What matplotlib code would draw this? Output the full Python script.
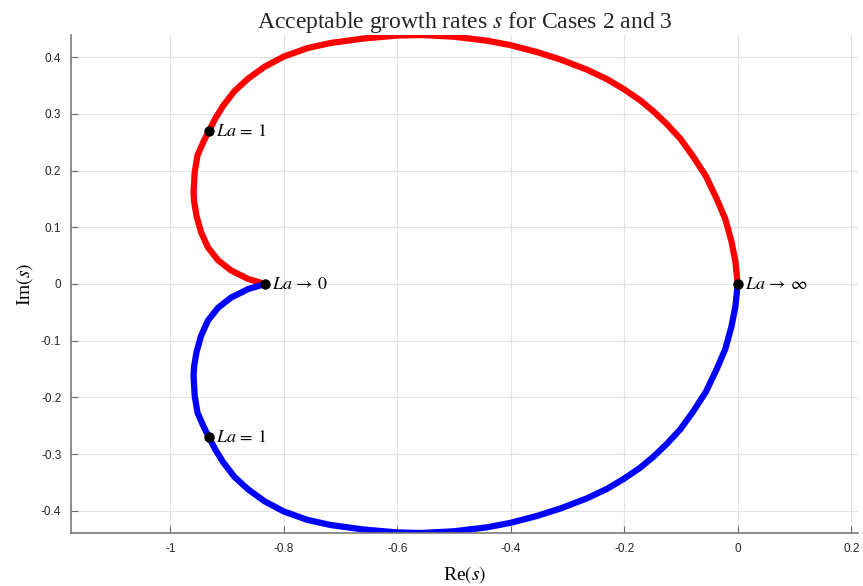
import numpy as np
import matplotlib.pyplot as plt

plt.rcParams['mathtext.fontset'] = 'stix'
plt.rcParams['axes.unicode_minus'] = False

# upper branch (red), from La->0 round to La->inf
re_upper = [-0.833, -0.863, -0.893, -0.916, -0.934, -0.946, -0.954, -0.958, -0.959,
            -0.958, -0.957, -0.952, -0.941, -0.932, -0.920, -0.907, -0.887, -0.863,
            -0.834, -0.800, -0.758, -0.717, -0.658, -0.600, -0.559, -0.500, -0.442,
            -0.400, -0.354, -0.313, -0.266, -0.230, -0.200, -0.172, -0.148, -0.125,
            -0.101, -0.078, -0.056, -0.037, -0.022, -0.011, -0.004, 0.000]
im_upper = [0.000, 0.009, 0.024, 0.042, 0.065, 0.092, 0.121, 0.145, 0.162,
            0.180, 0.197, 0.227, 0.252, 0.270, 0.293, 0.314, 0.340, 0.362,
            0.383, 0.401, 0.416, 0.425, 0.433, 0.438, 0.439, 0.436, 0.429,
            0.421, 0.409, 0.396, 0.378, 0.361, 0.343, 0.324, 0.304, 0.282,
            0.256, 0.224, 0.190, 0.150, 0.115, 0.075, 0.039, 0.000]

# lower branch (blue)
re_lower = [-0.833, -0.863, -0.893, -0.916, -0.934, -0.946, -0.954, -0.958, -0.959,
            -0.958, -0.957, -0.952, -0.941, -0.932, -0.920, -0.907, -0.887, -0.863,
            -0.834, -0.800, -0.758, -0.717, -0.658, -0.600, -0.559, -0.500, -0.442,
            -0.400, -0.354, -0.313, -0.266, -0.230, -0.200, -0.172, -0.148, -0.125,
            -0.101, -0.078, -0.056, -0.037, -0.022, -0.011, -0.004, 0.000]
im_lower = [-0.000, -0.009, -0.024, -0.042, -0.065, -0.092, -0.121, -0.145, -0.162,
            -0.180, -0.197, -0.227, -0.252, -0.270, -0.293, -0.314, -0.340, -0.362,
            -0.383, -0.401, -0.416, -0.425, -0.433, -0.438, -0.439, -0.436, -0.429,
            -0.421, -0.409, -0.396, -0.378, -0.361, -0.343, -0.324, -0.304, -0.282,
            -0.256, -0.224, -0.190, -0.150, -0.115, -0.075, -0.039, -0.000]

# marked points
pt_re = [-0.833, -0.932, -0.932, 0.0]
pt_im = [0.0, 0.270, -0.270, 0.0]
pt_labels = [r'$La\, \rightarrow\, 0$', r'$La\, =\, 1$', r'$La\, =\, 1$',
             r'$La\, \rightarrow\, \infty$']

xticks = [-1, -0.8, -0.6, -0.4, -0.2, 0, 0.2]
yticks = [-0.4, -0.3, -0.2, -0.1, 0, 0.1, 0.2, 0.3, 0.4]

fig = plt.figure(figsize=(8.63, 5.86), dpi=100)
ax = fig.add_axes([71/863, 53/586, 787/863, 498/586])

ax.plot(re_upper, im_upper, color='red', lw=4.5, solid_capstyle='round',
        solid_joinstyle='round')
ax.plot(re_lower, im_lower, color='blue', lw=4.5, solid_capstyle='round',
        solid_joinstyle='round')
ax.plot(pt_re, pt_im, 'o', color='black', ms=6.5, zorder=5)
for x, y, s in zip(pt_re, pt_im, pt_labels):
    ax.text(x + 0.013, y, s, fontsize=13, va='center', ha='left')

ax.set_xlim(-1.175, 0.212)
ax.set_ylim(-0.439, 0.439)
ax.set_xticks(xticks)
ax.set_yticks(yticks)
ax.set_xticklabels([('%g' % t) for t in xticks])
ax.set_yticklabels([('%g' % t) for t in yticks])
ax.tick_params(direction='in', length=5, labelsize=8.5, color='#6a6a6a',
               labelcolor='#262626', pad=7)
for lab in ax.get_xticklabels() + ax.get_yticklabels():
    lab.set_fontfamily('Liberation Sans')
ax.grid(True, color='#e3e3e3', lw=0.8)
ax.set_axisbelow(True)
for sp in ['top', 'right']:
    ax.spines[sp].set_visible(False)
for sp in ['left', 'bottom']:
    ax.spines[sp].set_color('#7a7a7a')
    ax.spines[sp].set_linewidth(1.2)

ax.set_title(r'Acceptable growth rates $s$ for Cases 2 and 3', fontsize=17,
             family='Liberation Serif', color='#262626', pad=5)
ax.set_xlabel(r'Re$(s)$', fontsize=14, family='Liberation Serif', labelpad=7)
ax.set_ylabel(r'Im$(s)$', fontsize=14, family='Liberation Serif', labelpad=4)

plt.savefig('out.png', dpi=100)
